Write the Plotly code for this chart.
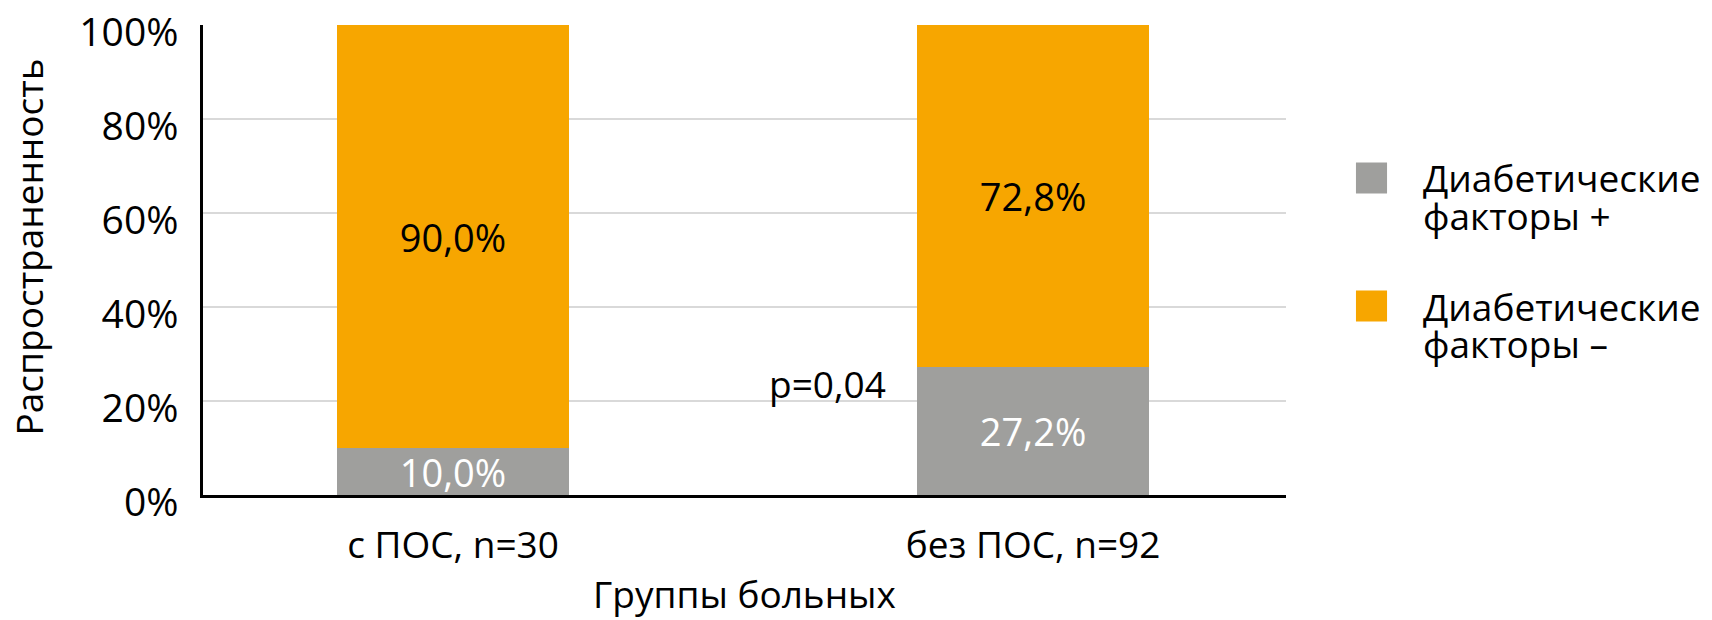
import plotly.graph_objects as go

# Data
groups = ['с ПОС, n=30', 'без ПОС, n=92']
series_names = ['Диабетические<br>факторы +', 'Диабетические<br>факторы –']
factors_pos = [10.0, 27.2]
factors_neg = [90.0, 72.8]
y_ticks = [0, 20, 40, 60, 80, 100]
y_tick_labels = ['0%', '20%', '40%', '60%', '80%', '100%']
p_value_label = 'p=0,04'

GRAY = '#9f9f9d'
ORANGE = '#f7a600'
FONT = 'Open Sans'
FS = 37

fig = go.Figure()

series = [
    (series_names[0], factors_pos, GRAY, 'white'),
    (series_names[1], factors_neg, ORANGE, 'black'),
]

for name, values, color, txt_color in series:
    fig.add_trace(go.Bar(
        x=groups,
        y=values,
        name=name,
        marker=dict(color=color, line=dict(width=0)),
        width=0.4,
        text=[f'{v:.1f}%'.replace('.', ',') for v in values],
        textposition='inside',
        insidetextanchor='middle',
        constraintext='none',
        textangle=0,
        textfont=dict(family=FONT, size=38, color=txt_color),
        showlegend=False,
    ))

# p-value label next to the second bar
fig.add_annotation(
    x=0.75, y=23.8, xref='x', yref='y',
    text=p_value_label, showarrow=False,
    xanchor='right', yanchor='middle',
    font=dict(family=FONT, size=FS, color='black'),
)

# Y axis title placed by hand
fig.add_annotation(
    x=-0.161, y=0.528, xref='paper', yref='paper',
    text='Распространенность', textangle=-90, showarrow=False,
    xanchor='center', yanchor='middle',
    font=dict(family=FONT, size=FS, color='black'),
)

# Custom legend with big square keys (paper coords relative to plot area)
legend_y = [0.6745, 0.402]
for (name, values, color, txt_color), ly in zip(series, legend_y):
    fig.add_shape(
        type='rect', xref='paper', yref='paper',
        x0=1.0646, x1=1.0933, y0=ly - 0.033, y1=ly + 0.033,
        fillcolor=color, line=dict(width=0),
    )
    for i, line in enumerate(name.split('<br>')):
        fig.add_annotation(
            x=1.1247, y=ly - i * 0.08, xref='paper', yref='paper',
            text=line, showarrow=False,
            xanchor='left', yanchor='middle',
            font=dict(family=FONT, size=FS, color='black'),
        )

fig.update_layout(
    barmode='stack',
    width=1712,
    height=620,
    margin=dict(l=203, r=426, t=25, b=125, autoexpand=False),
    plot_bgcolor='white',
    paper_bgcolor='white',
    font=dict(family=FONT, size=FS, color='black'),
    xaxis=dict(
        range=[-0.431, 1.436],
        automargin=False,
        showline=True, linecolor='black', linewidth=2.5,
        showgrid=False, ticks='',
        ticklabelstandoff=16,
        tickfont=dict(family=FONT, size=FS),
        title=dict(text='Группы больных', font=dict(family=FONT, size=FS), standoff=14),
    ),
    yaxis=dict(
        range=[0, 100.1],
        automargin=False,
        tickvals=y_ticks, ticktext=y_tick_labels,
        showline=True, linecolor='black', linewidth=2.5,
        showgrid=True, gridcolor='#d9d9d9', gridwidth=2,
        zeroline=False, ticks='',
        ticklabelstandoff=14,
        ticklabelshift=7,
        ticklabeloverflow='allow',
        tickfont=dict(family=FONT, size=39),
    ),
)

fig.write_html('out.html', config={'displayModeBar': False},
               post_script="document.body.style.margin='0';")
